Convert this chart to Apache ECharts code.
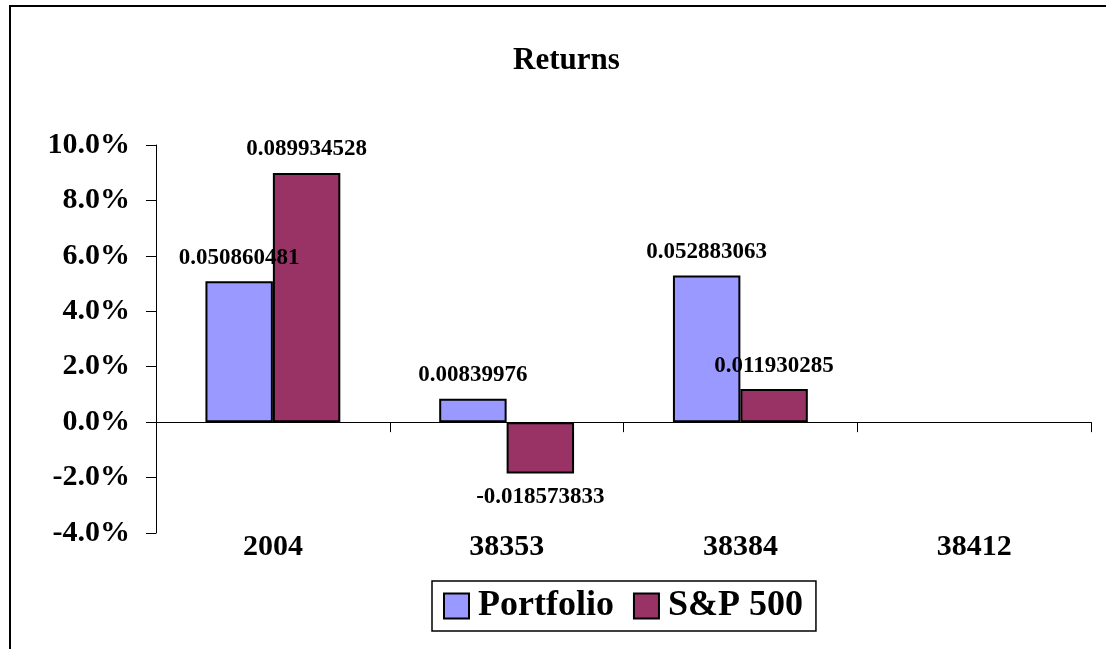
<!DOCTYPE html>
<html>
<head>
<meta charset="utf-8">
<script src="https://cdn.jsdelivr.net/npm/echarts@6/dist/echarts.min.js"></script>
<style>html,body{margin:0;padding:0;background:#fff;}#chart{width:1106px;height:649px;}</style>
</head>
<body>
<div id="chart"></div>
<script>
var categories = ['2004', '38353', '38384', '38412'];
var portfolio = [0.050860481, 0.00839976, 0.052883063, null];
var sp500 = [0.089934528, -0.018573833, 0.011930285, null];
var seriesNames = ['Portfolio', 'S&P 500'];
var yMin = -0.04, yMax = 0.10, yStep = 0.02;

var FONT = "'Liberation Serif', 'Times New Roman', serif";

function toItems(arr) {
  return arr.map(function (v) {
    if (v === null) return null;
    return { value: v, label: { position: v < 0 ? 'bottom' : 'top' } };
  });
}

var chart = echarts.init(document.getElementById('chart'));
chart.setOption({
  animation: false,
  backgroundColor: '#fff',
  graphic: [{
    type: 'rect', silent: true,
    shape: { x: 10, y: 6, width: 1300, height: 800 },
    style: { fill: 'none', stroke: '#000', lineWidth: 2 }
  }],
  title: {
    text: 'Returns',
    left: 513, top: 45, padding: 0,
    textStyle: { fontFamily: FONT, fontWeight: 'bold', fontSize: 31, color: '#000' }
  },
  legend: {
    data: seriesNames,
    left: 432, top: 581,
    orient: 'horizontal',
    borderColor: '#000', borderWidth: 1.5,
    padding: [7, 13, 7, 11],
    itemGap: 19, itemWidth: 25, itemHeight: 25,
    icon: 'rect',
    textStyle: { fontFamily: FONT, fontWeight: 'bold', fontSize: 36, color: '#000', padding: [0, 0, 0, 4] }
  },
  grid: { left: 156, right: 15, top: 145, bottom: 116, containLabel: false },
  xAxis: [{
    type: 'category', data: categories, position: 'top',
    axisLine: { show: true, onZero: true, lineStyle: { color: '#000', width: 1 } },
    axisTick: { show: true, inside: true, length: 10, interval: 0, lineStyle: { color: '#000' } },
    axisLabel: { show: false },
    splitLine: { show: false }
  }, {
    type: 'category', data: categories, position: 'bottom',
    axisLine: { show: false, onZero: false },
    axisTick: { show: false },
    axisLabel: { show: true, margin: -1, fontFamily: FONT, fontWeight: 'bold', fontSize: 30, color: '#000' },
    splitLine: { show: false }
  }],
  yAxis: {
    type: 'value', min: yMin, max: yMax, interval: yStep,
    axisLine: { show: true, onZero: false, lineStyle: { color: '#000', width: 1 } },
    axisTick: { show: true, length: 10, lineStyle: { color: '#000' } },
    splitLine: { show: false },
    axisLabel: {
      margin: 26, fontFamily: FONT, fontWeight: 'bold', fontSize: 30, color: '#000',
      formatter: function (v) { return (v * 100).toFixed(1) + '%'; }
    }
  },
  series: [{
    name: seriesNames[0], type: 'bar', xAxisIndex: 0,
    data: toItems(portfolio),
    barGap: '0%', barCategoryGap: '42.3%',
    itemStyle: { color: '#9999FF', borderColor: '#000', borderWidth: 2 },
    label: {
      show: true, distance: 12,
      fontFamily: FONT, fontWeight: 'bold', fontSize: 23, color: '#000',
      formatter: function (p) { return String(p.value); }
    }
  }, {
    name: seriesNames[1], type: 'bar', xAxisIndex: 0,
    data: toItems(sp500),
    barGap: '0%', barCategoryGap: '42.3%',
    itemStyle: { color: '#993366', borderColor: '#000', borderWidth: 2 },
    label: {
      show: true, distance: 12,
      fontFamily: FONT, fontWeight: 'bold', fontSize: 23, color: '#000',
      formatter: function (p) { return String(p.value); }
    }
  }]
});
</script>
</body>
</html>
